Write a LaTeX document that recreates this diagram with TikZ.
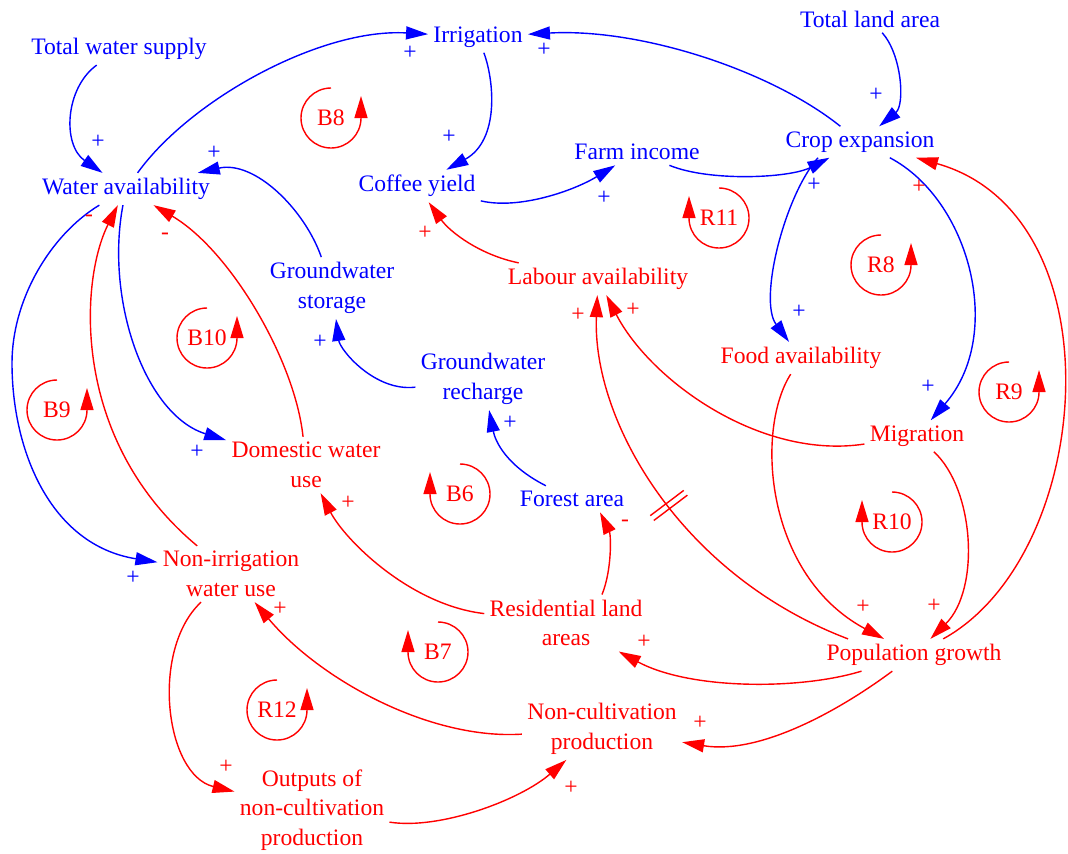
\documentclass[tikz,border=0pt]{standalone}
\usepackage{fontspec}
\setmainfont{Liberation Serif}
\usepackage{tikz}
\usetikzlibrary{arrows.meta,decorations.markings}

\begin{document}
\begin{tikzpicture}[x=0.5pt,y=-0.5pt,
    font=\fontsize{11.8pt}{14.8pt}\selectfont,
    var/.style={inner sep=2.5pt, align=center, yshift=-1pt},
    bvar/.style={var, text=varblue},
    rvar/.style={var, text=varred},
    link/.style={line width=0.7pt, -{Triangle[length=11pt,width=6.5pt]}},
    blink/.style={link, draw=varblue},
    rlink/.style={link, draw=varred},
    bpol/.style={text=varblue, inner sep=0pt},
    rpol/.style={text=varred, inner sep=0pt},
    loop label/.style={text=varred, inner sep=0pt},
    loop arrow/.style={draw=varred, line width=0.7pt, -{Triangle[length=11pt,width=6.5pt]}},
    delay mark/.style={postaction={decorate},
      decoration={markings, mark=at position 0.5 with {
        \draw[-, draw=varred, line width=0.7pt] (-1.5pt,-10.5pt) -- (-1.5pt,10.5pt)
          (1.5pt,-10.5pt) -- (1.5pt,10.5pt);}}}]
  \colorlet{varblue}{blue}
  \colorlet{varred}{red}
  \useasboundingbox (0,0) rectangle (1068,853);

  % variables
  \node[bvar] (tws) at (119,47) {Total water supply};
  \node[bvar] (irr) at (478,35) {Irrigation};
  \node[bvar] (tla) at (870,17) {Total land area};
  \node[bvar] (wa) at (126,187) {Water availability};
  \node[bvar] (cy) at (417,184) {Coffee yield};
  \node[bvar] (fi) at (637,150) {Farm income};
  \node[bvar] (ce) at (860,140) {Crop expansion};
  \node[bvar] (gs) at (332,286) {Groundwater\\storage};
  \node[bvar] (gr) at (483,377) {Groundwater\\recharge};
  \node[bvar] (fa) at (572,497) {Forest area};
  \node[rvar] (la) at (598,277) {Labour availability};
  \node[rvar] (food) at (801,356) {Food availability};
  \node[rvar] (mig) at (917,434) {Migration};
  \node[rvar] (dwu) at (306,463) {Domestic water\\use};
  \node[rvar] (niwu) at (231,572) {Non-irrigation\\water use};
  \node[rvar] (rla) at (566,621) {Residential land\\areas};
  \node[rvar] (pg) at (914,653) {Population growth};
  \node[rvar] (ncp) at (602,727) {Non-cultivation\\production};
  \node[rvar] (oncp) at (312,808) {Outputs of\\non-cultivation\\production};

  % blue links
  \draw[blink] (tws) .. controls (65,88) and (62,145) .. (wa) node[bpol] (s1) at (98,142) {+};
  \draw[blink] (wa) .. controls (190,100) and (320,28) .. (irr) node[bpol] (s2) at (410,53) {+};
  \draw[blink] (irr) .. controls (494,80) and (500,140) .. (cy) node[bpol] (s3) at (449,137) {+};
  \draw[blink] (cy) .. controls (520,210) and (575,190) .. (fi) node[bpol] (s4) at (604,198) {+};
  \draw[blink] (fi) .. controls (710,182) and (790,178) .. (ce) node[bpol] (s5) at (814,185) {+};
  \draw[blink] (ce) .. controls (770,70) and (640,28) .. (irr) node[bpol] (s6) at (544,50) {+};
  \draw[blink] (tla) .. controls (902,55) and (905,105) .. (ce) node[bpol] (s7) at (876,95) {+};
  \draw[blink] ([xshift=-21pt]ce.south) .. controls (785,195) and (758,300) .. (food) node[bpol] (s8) at (799,312) {+};
  \draw[blink] (ce) .. controls (970,200) and (1005,335) .. (mig) node[bpol] (s9) at (928,387) {+};
  \draw[blink] (gs) .. controls (305,210) and (255,160) .. (wa) node[bpol] (s10) at (214,153) {+};
  \draw[blink] (gr) .. controls (375,392) and (340,350) .. (gs) node[bpol] (s11) at (320,342) {+};
  \draw[blink] (fa) .. controls (505,465) and (495,440) .. (gr) node[bpol] (s12) at (510,423) {+};
  \draw[blink] (wa) .. controls (105,300) and (145,415) .. (dwu) node[bpol] (s13) at (197,452) {+};
  \draw[blink] (wa) .. controls (50,235) and (12,300) .. (12,363)
    .. controls (12,450) and (50,545) .. (niwu) node[bpol] (s14) at (133,578) {+};

  % red links
  \draw[rlink] (niwu) .. controls (70,440) and (80,280) .. (wa) node[rpol] (s15) at (89,218) {-};
  \draw[rlink] (dwu) .. controls (295,360) and (230,250) .. (wa) node[rpol] (s16) at (165,236) {-};
  \draw[rlink] (la) .. controls (480,255) and (450,232) .. (cy) node[rpol] (s17) at (425,233) {+};
  \draw[rlink] (rla) .. controls (410,605) and (345,540) .. (dwu) node[rpol] (s18) at (348,503) {+};
  \draw[rlink] ([xshift=18pt]rla.north) .. controls (612,570) and (611,535) .. ([xshift=14pt]fa.south) node[rpol] (s19) at (625,523) {-};
  \draw[rlink, delay mark] ([xshift=-33pt]pg.north) .. controls (680,575) and (592,420) .. (la) node[rpol] (s20) at (578,315) {+};
  \draw[rlink] (mig) .. controls (760,460) and (650,380) .. (la) node[rpol] (s21) at (633,310) {+};
  \draw[rlink] (food) .. controls (755,430) and (765,575) .. (pg) node[rpol] (s22) at (863,607) {+};
  \draw[rlink] (mig) .. controls (975,490) and (980,590) .. (pg) node[rpol] (s23) at (934,606) {+};
  \draw[rlink] (pg) .. controls (1095,555) and (1120,215) .. (ce) node[rpol] (s24) at (919,187) {+};
  \draw[rlink] (pg) .. controls (800,690) and (690,690) .. (rla) node[rpol] (s25) at (644,642) {+};
  \draw[rlink] (pg) .. controls (840,710) and (760,755) .. (ncp) node[rpol] (s26) at (700,723) {+};
  \draw[rlink] (ncp) .. controls (430,740) and (320,680) .. (niwu) node[rpol] (s27) at (280,609) {+};
  \draw[rlink] (niwu) .. controls (150,650) and (165,775) .. (oncp) node[rpol] (s28) at (226,767) {+};
  \draw[rlink] (oncp) .. controls (440,830) and (520,800) .. (ncp) node[rpol] (s29) at (571,788) {+};

  % loop markers
  \foreach \nm/\x/\y/\sd in {B8/331/118/1, R11/719/218/-1, R8/881/265/1, B10/207/338/1,
      B9/57/410/1, B6/460/494/-1, R10/892/522/-1, R9/1009/392/1, B7/438/652/-1, R12/277/710/1}
  {
    \node[loop label] (\nm) at (\x,\y) {\nm};
    \draw[loop arrow] (\nm.center) ++(0pt,15pt)
      arc[start angle=90, end angle={90+\sd*270}, radius=15pt] -- ++(0pt,11pt);
  }
\end{tikzpicture}
\end{document}
